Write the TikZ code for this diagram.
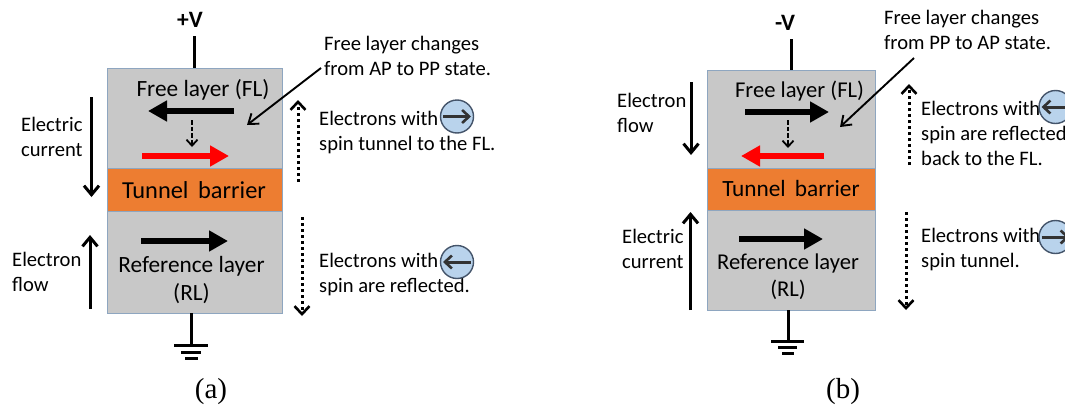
\documentclass[tikz,border=0pt]{standalone}
\usepackage{fontspec}
\setmainfont{Carlito}
\newfontfamily\timesf{Liberation Serif}
\usetikzlibrary{arrows.meta}
\definecolor{layergrey}{HTML}{C8C8C8}
\definecolor{layeredge}{HTML}{8EA6C0}
\definecolor{barrierorange}{HTML}{ED7D31}
\definecolor{circfill}{HTML}{B9D3EC}
\definecolor{circedge}{HTML}{44546A}
\definecolor{circarrow}{HTML}{333333}
\tikzset{
  layerbox/.style={draw=layeredge,line width=1.2pt,fill=layergrey,inner sep=0pt,minimum width=#1},
  barrierbox/.style={draw=layeredge,line width=0.9pt,fill=barrierorange,inner sep=0pt,minimum width=#1},
  lbl/.style={font=\fontsize{20.6}{25}\selectfont,inner sep=0pt,align=left,text=black},
  ctr/.style={font=\fontsize{23.3}{28}\selectfont,inner sep=0pt,align=center,text=black},
  ctrb/.style={font=\fontsize{22.6}{27}\selectfont,inner sep=0pt,align=center,text=black},
  volt/.style={font=\fontsize{23.5}{26}\selectfont\bfseries,inner sep=0pt},
  caption/.style={font=\fontsize{29}{32}\selectfont\timesf,inner sep=0pt},
  wire/.style={line width=3pt},
  bigarrow/.style={line width=6.5pt,-{Triangle[length=19pt,width=20pt]}},
  thinarrow/.style={line width=3pt,-{Straight Barb[length=9pt,width=15pt,line width=3pt]}},
  dotarrow/.style={line width=3pt,dash pattern=on 3pt off 3pt,-{Straight Barb[length=8pt,width=15pt,line width=2.6pt,sep=0pt]}},
  dasharrow/.style={line width=1.8pt,dash pattern=on 4.5pt off 2.2pt,-{Straight Barb[length=6pt,width=11pt,line width=1.8pt]}},
  callout/.style={line width=1.9pt,-{Straight Barb[length=9pt,width=13pt,line width=1.9pt]}},
  spincirc/.style={circle,draw=circedge,line width=1.4pt,fill=circfill,minimum size=33pt,inner sep=0pt},
  spinarrow/.style={line width=3pt,draw=circarrow,-{Straight Barb[length=7pt,width=13pt,line width=2.6pt]}},
}
\begin{document}
\begin{tikzpicture}[x=1pt,y=-1pt]
\useasboundingbox (0,0) rectangle (1065,407);
\fill[white] (0,0) rectangle (1065,407);
% ---------- panel (a)
\node[volt] (va) at (190,20) {+V};
\node[layerbox=175pt,minimum height=100pt,anchor=north west] (fla) at (107,68) {};
\node[layerbox=175pt,minimum height=102pt,anchor=north west] (rla) at (107,211) {};
\node[barrierbox=175pt,minimum height=43pt,anchor=north west] (tba) at (107,168) {};
\node[ctr,font=\fontsize{24.4}{28}\selectfont] (tbta) at (194,190.5) {Tunnel\, barrier};
\node[ctr] (flta) at (203,90) {Free layer (FL)};
\node[ctr] (rlta) at (191.5,280) {Reference layer\\(RL)};
\coordinate (wa) at (194.5,36);
\draw[wire] (wa) -- (wa |- fla.north);
\coordinate (ga) at (191,313);
\coordinate (ga0) at (191,344);
\draw[wire] (ga) -- (ga0);
\coordinate (ga1) at (174,345); \coordinate (ga2) at (208,345);
\coordinate (ga3) at (181,352); \coordinate (ga4) at (201,352);
\coordinate (ga5) at (185,358); \coordinate (ga6) at (198,358);
\draw[wire] (ga1)--(ga2) (ga3)--(ga4) (ga5)--(ga6);
\coordinate (a1s) at (234,111); \coordinate (a1e) at (148,111);
\draw[bigarrow] (a1s) -- (a1e);
\coordinate (a2s) at (142,156); \coordinate (a2e) at (229,156);
\draw[bigarrow,red] (a2s) -- (a2e);
\coordinate (a3s) at (141,241); \coordinate (a3e) at (228,241);
\draw[bigarrow] (a3s) -- (a3e);
\coordinate (a4s) at (192,120); \coordinate (a4e) at (192,147);
\draw[dasharrow] (a4s) -- (a4e);
\coordinate (a5s) at (91.5,97); \coordinate (a5e) at (91.5,197);
\draw[thinarrow] (a5s) -- (a5e);
\coordinate (a6s) at (90,309); \coordinate (a6e) at (90,235);
\draw[thinarrow] (a6s) -- (a6e);
\coordinate (a7s) at (298,182); \coordinate (a7e) at (298,100);
\draw[dotarrow] (a7s) -- (a7e);
\coordinate (a8s) at (302,217); \coordinate (a8e) at (302,316);
\draw[dotarrow] (a8s) -- (a8e);
\node[lbl,anchor=west] (eca) at (21,137) {Electric\\current};
\node[lbl,anchor=west] (efa) at (12,271.5) {Electron\\flow};
\node[lbl,anchor=west] (fca) at (324,55.5) {Free layer changes\\from AP to PP state.};
\coordinate (cas) at (321,68); \coordinate (cae) at (247,125);
\draw[callout] (cas) -- (cae);
\node[lbl,anchor=west] (e1a) at (319,133) {Electrons with\\spin tunnel to the FL.};
\node[lbl,anchor=west] (e2a) at (319,274.5) {Electrons with\\spin are reflected.};
\node[spincirc] (c1a) at (457,116.5) {};
\draw[spinarrow] ([xshift=-14pt]c1a.center) -- ([xshift=14pt]c1a.center);
\node[spincirc] (c2a) at (457,262) {};
\draw[spinarrow] ([xshift=14pt]c2a.center) -- ([xshift=-14pt]c2a.center);
\node[caption] (capa) at (211,392) {(a)};
% ---------- panel (b)
\node[volt] (vb) at (785,23) {-V};
\node[layerbox=168pt,minimum height=98pt,anchor=north west] (flb) at (707,70) {};
\node[layerbox=168pt,minimum height=100pt,anchor=north west] (rlb) at (707,210) {};
\node[barrierbox=168pt,minimum height=42pt,anchor=north west] (tbb) at (707,168) {};
\node[ctr] (tbtb) at (791,188.5) {Tunnel\, barrier};
\node[ctrb] (fltb) at (799.5,91.5) {Free layer (FL)};
\node[ctrb] (rltb) at (788,277) {Reference layer\\(RL)};
\coordinate (wb) at (791,39);
\draw[wire] (wb) -- (wb |- flb.north);
\coordinate (gb) at (788,310);
\coordinate (gb0) at (788,340);
\draw[wire] (gb) -- (gb0);
\coordinate (gb1) at (771,341); \coordinate (gb2) at (804,341);
\coordinate (gb3) at (778,347); \coordinate (gb4) at (797,347);
\coordinate (gb5) at (782,353); \coordinate (gb6) at (794,353);
\draw[wire] (gb1)--(gb2) (gb3)--(gb4) (gb5)--(gb6);
\coordinate (b1s) at (745,112); \coordinate (b1e) at (829,112);
\draw[bigarrow] (b1s) -- (b1e);
\coordinate (b2s) at (824,156); \coordinate (b2e) at (741,156);
\draw[bigarrow,red] (b2s) -- (b2e);
\coordinate (b3s) at (739,239); \coordinate (b3e) at (823,239);
\draw[bigarrow] (b3s) -- (b3e);
\coordinate (b4s) at (788,120); \coordinate (b4e) at (788,148);
\draw[dasharrow] (b4s) -- (b4e);
\coordinate (b5s) at (691,82); \coordinate (b5e) at (691,155);
\draw[thinarrow] (b5s) -- (b5e);
\coordinate (b6s) at (690.5,310); \coordinate (b6e) at (690.5,212);
\draw[thinarrow] (b6s) -- (b6e);
\coordinate (b7s) at (909,165); \coordinate (b7e) at (909,84);
\draw[dotarrow] (b7s) -- (b7e);
\coordinate (b8s) at (906,212); \coordinate (b8e) at (906,310);
\draw[dotarrow] (b8s) -- (b8e);
\node[lbl,anchor=west] (efb) at (617,112.5) {Electron\\flow};
\node[lbl,anchor=west] (ecb) at (622,248.5) {Electric\\current};
\node[lbl,anchor=west] (fcb) at (884,29.5) {Free layer changes\\from PP to AP state.};
\coordinate (cbs) at (914,58); \coordinate (cbe) at (840,127);
\draw[callout] (cbs) -- (cbe);
\node[lbl,anchor=west] (e1b) at (921,133.5) {Electrons with\\spin are reflected\\back to the FL.};
\node[lbl,anchor=west] (e2b) at (921,249.5) {Electrons with\\spin tunnel.};
\node[spincirc] (c1b) at (1055.5,107) {};
\draw[spinarrow] ([xshift=14pt]c1b.center) -- ([xshift=-14pt]c1b.center);
\node[spincirc] (c2b) at (1055.5,237) {};
\draw[spinarrow] ([xshift=-14pt]c2b.center) -- ([xshift=14pt]c2b.center);
\node[caption] (capb) at (843,392) {(b)};
\end{tikzpicture}
\end{document}
